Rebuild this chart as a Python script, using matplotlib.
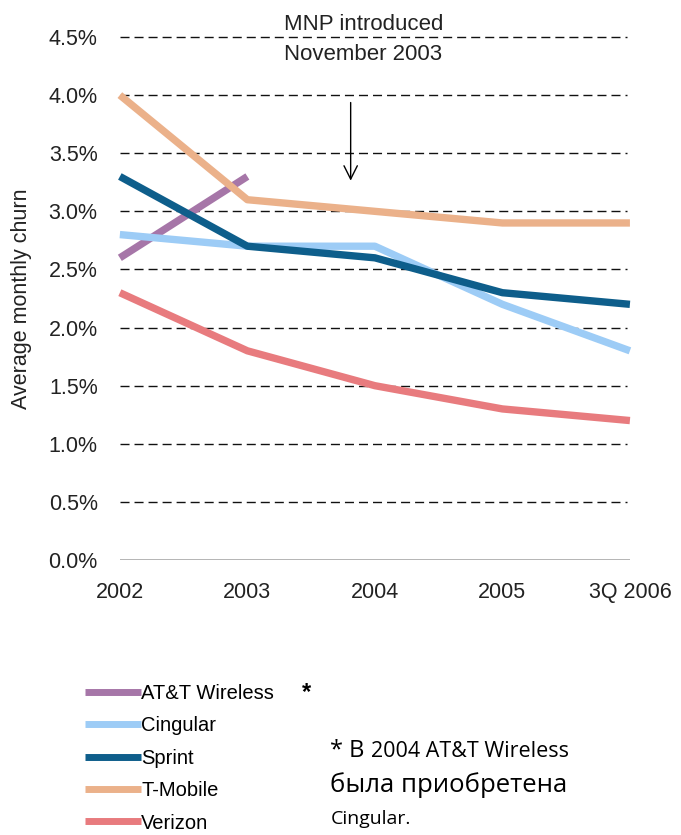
import matplotlib.pyplot as plt
from matplotlib.ticker import FuncFormatter

years = ['2002', '2003', '2004', '2005', '3Q 2006']
att = [2.6, 3.3]
cingular = [2.8, 2.7, 2.7, 2.2, 1.8]
sprint = [3.3, 2.7, 2.6, 2.3, 2.2]
tmobile = [4.0, 3.1, 3.0, 2.9, 2.9]
verizon = [2.3, 1.8, 1.5, 1.3, 1.2]

names = ['AT&T Wireless', 'Cingular', 'Sprint', 'T-Mobile', 'Verizon']
series = [att, cingular, sprint, tmobile, verizon]
colors = ['#A676A8', '#9DCCF6', '#0E5E8B', '#EBB18A', '#E87B7E']

plt.rcParams['font.family'] = ['Liberation Sans', 'DejaVu Sans']

fig = plt.figure(figsize=(6.81, 8.35), dpi=100)
ax = fig.add_axes([0.176, 0.3293, 0.749, 0.6264])

x = list(range(len(years)))
lines = []
for name, vals, c in zip(names, series, colors):
    l, = ax.plot(x[:len(vals)], vals, color=c, lw=5.3, solid_capstyle='butt',
                 solid_joinstyle='round', label=name, clip_on=False)
    lines.append(l)

# grid
for v in [0.5, 1, 1.5, 2, 2.5, 3, 3.5, 4, 4.5]:
    ax.plot([0, 3.98], [v, v], color='#111111', lw=1, ls=(0, (6.5, 3.6)), zorder=0, clip_on=False)
ax.plot([0, 4], [0, 0], color='#a8a8a8', lw=1.2, zorder=0)

ax.set_xlim(0, 4)
ax.set_ylim(0, 4.5)
ax.set_xticks(x)
ax.set_xticklabels(years)
ax.set_yticks([0, 0.5, 1, 1.5, 2, 2.5, 3, 3.5, 4, 4.5])
ax.yaxis.set_major_formatter(FuncFormatter(lambda v, p: f'{v:.1f}%'))
ax.tick_params(length=0, labelsize=15.5, colors='#222222')
ax.tick_params(axis='y', pad=16)
ax.tick_params(axis='x', pad=16)
for s in ax.spines.values():
    s.set_visible(False)
ax.set_ylabel('Average monthly churn', fontsize=15.5, labelpad=12, color='#222222')

ax.text(1.91, 4.48, 'MNP introduced\nNovember 2003', ha='center', va='center',
        fontsize=16, linespacing=1.55, color='#222222')
ax.annotate('', xy=(1.81, 3.24), xytext=(1.81, 3.96),
            arrowprops=dict(arrowstyle='->', color='black', lw=1, mutation_scale=24))

leg = fig.legend(handles=lines, loc='upper left', bbox_to_anchor=(0.113, 0.191),
                 frameon=False, fontsize=14.5, handlelength=2.8, handletextpad=0.0,
                 labelspacing=0.67, borderaxespad=0)
for h in leg.legend_handles:
    h.set_linewidth(5)
fig.text(0.443, 0.171, '*', fontsize=17, fontweight='bold', ha='left', va='center')

fn = ['Open Sans', 'DejaVu Sans']
fig.text(0.485, 0.094, '* В', fontsize=17, family=fn, va='baseline')
fig.text(0.545, 0.094, '2004 AT&T Wireless', fontsize=15.5, family=fn, va='baseline')
fig.text(0.485, 0.052, 'была приобретена', fontsize=18.5, family=fn, va='baseline')
fig.text(0.485, 0.013, 'Cingular.', fontsize=14, family=fn, va='baseline')

fig.savefig('out.png', dpi=100)
